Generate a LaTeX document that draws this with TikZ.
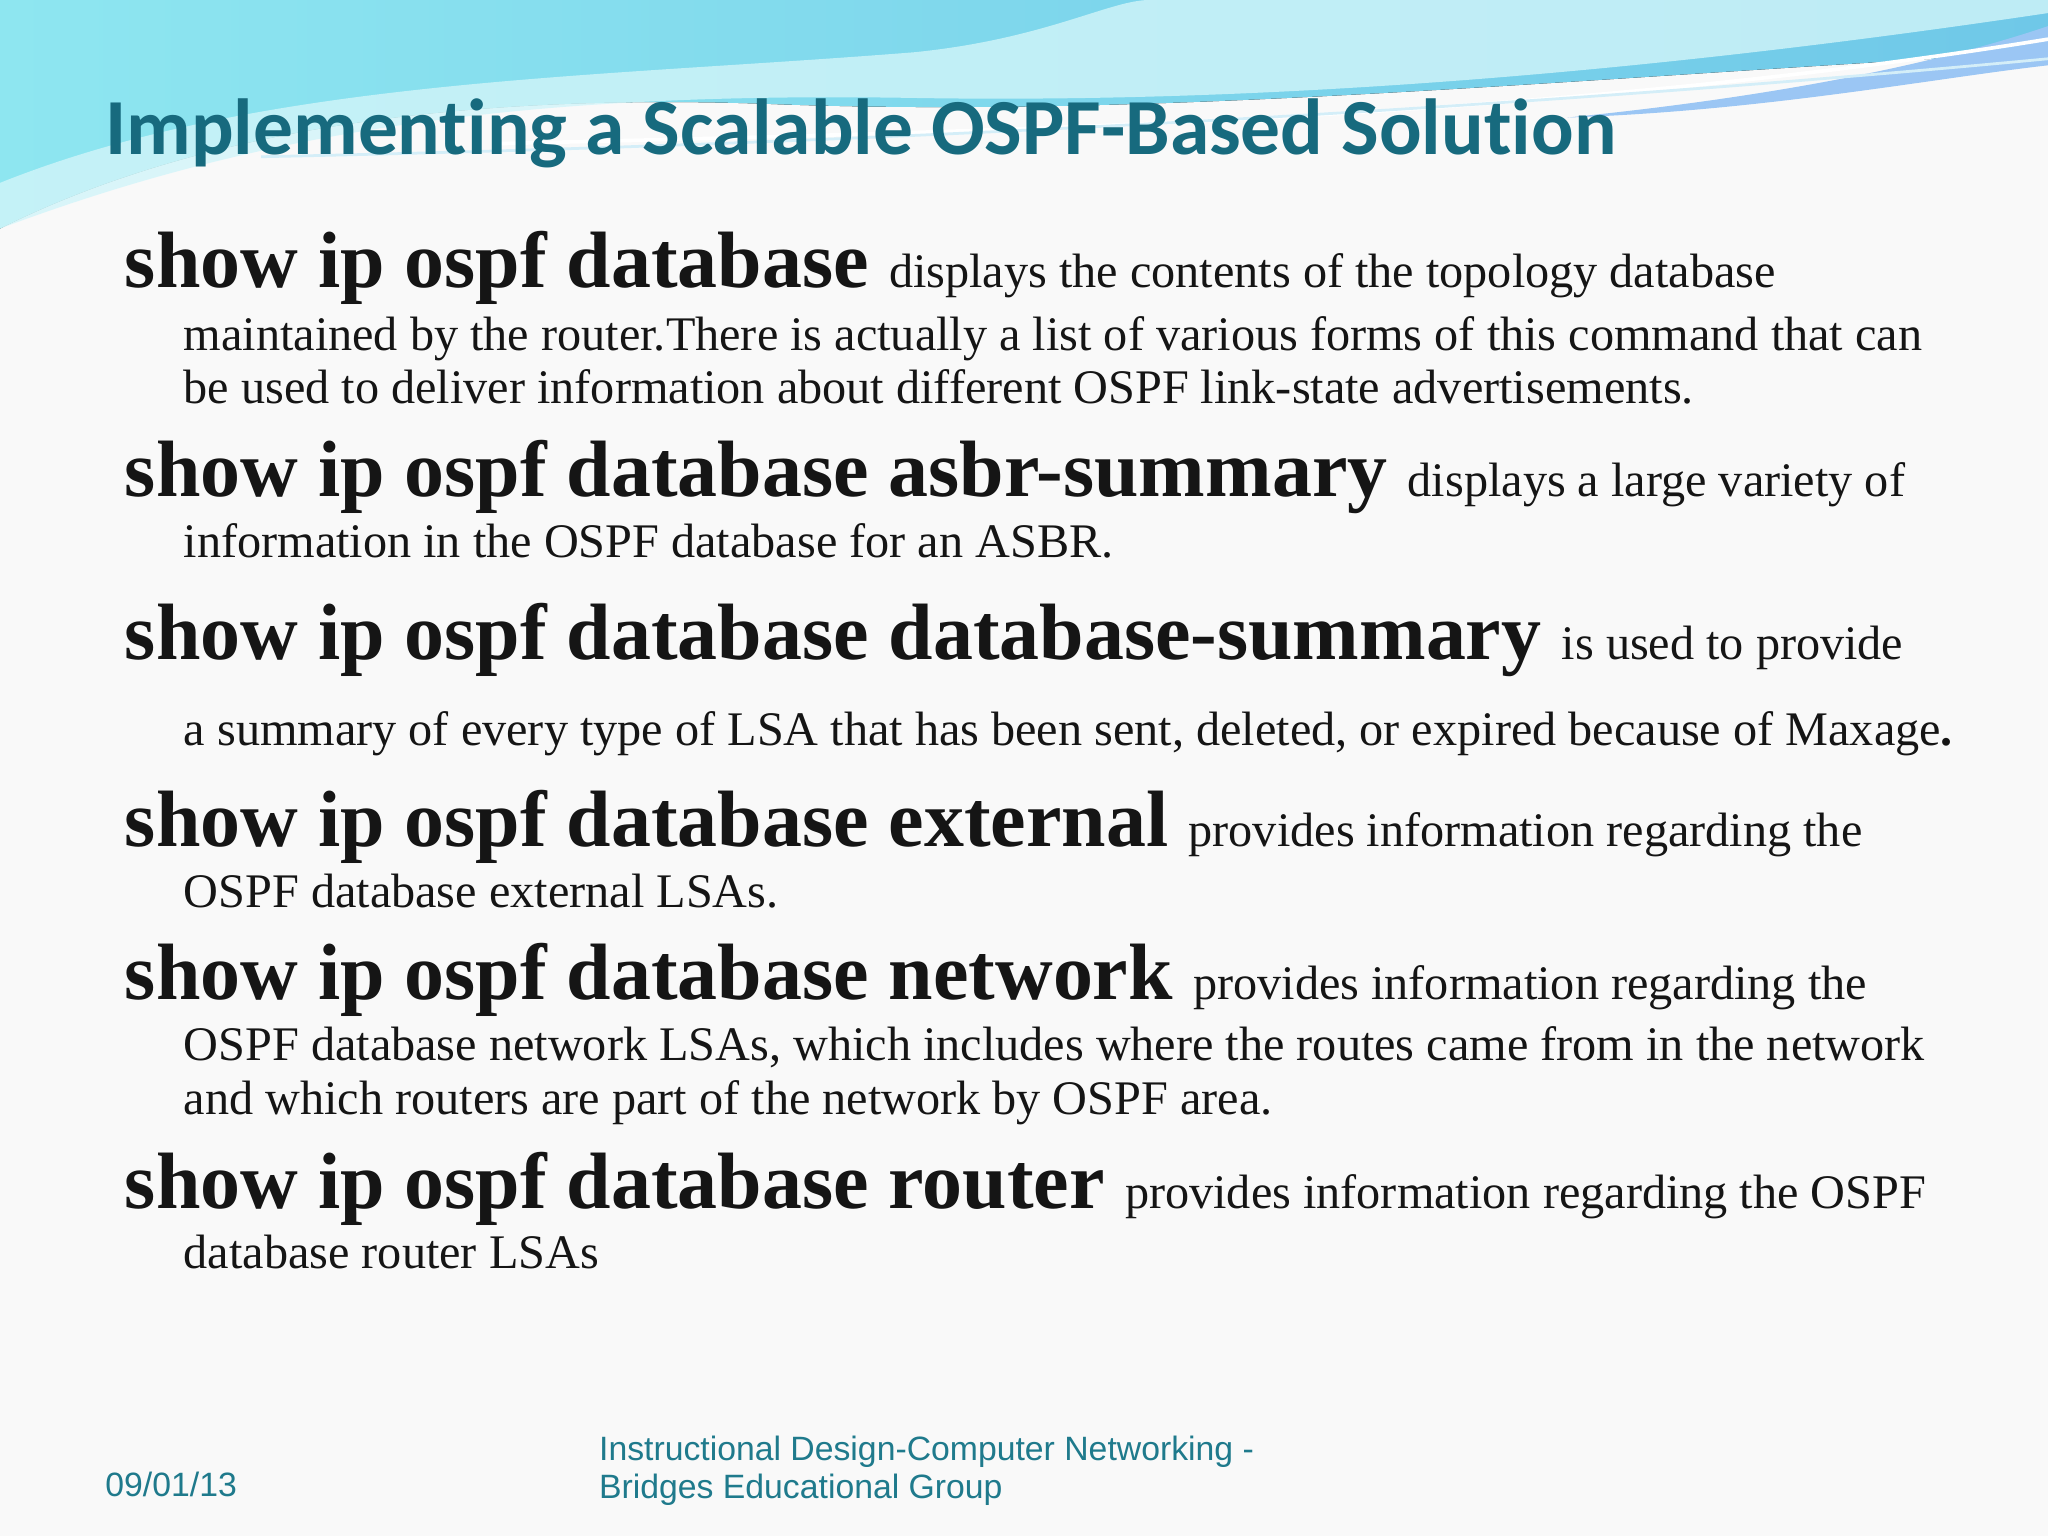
\documentclass[tikz,border=0pt]{standalone}
\usepackage{fontspec}
\setmainfont{Liberation Serif}
\newfontfamily\titlefont[Ligatures=NoCommon]{Carlito}
\newfontfamily\footfont{Liberation Sans}
\definecolor{ttl}{HTML}{176A7E}
\definecolor{ink}{HTML}{151515}
\definecolor{foot}{HTML}{1F7A8C}
\definecolor{wave1}{HTML}{8EE6F0}
\definecolor{wave2}{HTML}{6FC8E8}
\tikzset{
 cmd/.style={anchor=base west,inner sep=0pt,text=ink,font=\fontsize{17.4}{20}\selectfont\bfseries},
 body/.style={anchor=base west,inner sep=0pt,text=ink,font=\fontsize{10.5}{12}\selectfont},
 foottxt/.style={anchor=base west,inner sep=0pt,text=foot,font=\footfont\fontsize{7.35}{9}\selectfont},
}
\begin{document}
\begin{tikzpicture}[x=0.01cm,y=-0.01cm]
\useasboundingbox (0,0) rectangle (1568,1176);
\fill[white!95!gray] (0,0) rectangle (1568,1176);
% waves
\fill[left color=wave1,right color=wave2] (0,0) -- (1568,0) -- (1568,40) .. controls (1200,60) and (900,90) .. (600,80) .. controls (350,70) and (150,100) .. (0,175) -- cycle;
\fill[white!60!wave1,opacity=0.8] (0,140) .. controls (200,60) and (450,60) .. (700,40) .. controls (800,30) and (850,0) .. (880,0) -- (1568,0) -- (1568,10) .. controls (1300,50) and (1000,80) .. (700,75) .. controls (400,70) and (200,100) .. (0,175) -- cycle;
\fill[wave2!80!blue!60!white] (1568,20) .. controls (1450,60) and (1300,80) .. (1200,90) .. controls (1350,85) and (1480,60) .. (1568,50) -- cycle;
\draw[white,line width=0.8pt] (380,110) .. controls (800,100) and (1200,90) .. (1568,30);
\draw[white!70!wave2,line width=0.6pt] (200,120) .. controls (700,110) and (1200,80) .. (1568,45);
\node[anchor=base west,inner sep=0pt,text=ttl,font=\titlefont\fontsize{17.3}{20}\selectfont\bfseries] (title) at (80,118) {Implementing a Scalable OSPF-Based Solution};
% entries
\node[cmd] (c1) at (95,220) {show ip ospf database};
\node[body] (d1) at ([xshift=4pt]c1.base east) {displays the contents of the topology database};
\node[body] (d1b) at (140,268) {maintained by the router.There is actually a list of various forms of this command that can};
\node[body] (d1c) at (140,309) {be used to deliver information about different OSPF link-state advertisements.};
\node[cmd] (c2) at (95,380) {show ip ospf database asbr-summary};
\node[body] (d2) at ([xshift=4pt]c2.base east) {displays a large variety of};
\node[body] (d2b) at (140,427) {information in the OSPF database for an ASBR.};
\node[cmd] (c3) at (95,505) {show ip ospf database database-summary};
\node[body] (d3) at ([xshift=4pt]c3.base east) {is used to provide};
\node[body] (d3b) at (140,571) {a summary of every type of LSA that has been sent, deleted, or expired because of Maxage\textbf{.}};
\node[cmd] (c4) at (95,648) {show ip ospf database external};
\node[body] (d4) at ([xshift=4pt]c4.base east) {provides information regarding the};
\node[body] (d4b) at (140,695) {OSPF database external LSAs.};
\node[cmd] (c5) at (95,765) {show ip ospf database network};
\node[body] (d5) at ([xshift=4pt]c5.base east) {provides information regarding the};
\node[body] (d5b) at (140,812) {OSPF database network LSAs, which includes where the routes came from in the network};
\node[body] (d5c) at (140,853) {and which routers are part of the network by OSPF area.};
\node[cmd] (c6) at (95,925) {show ip ospf database router};
\node[body] (d6) at ([xshift=4pt]c6.base east) {provides information regarding the OSPF};
\node[body] (d6b) at (140,971) {database router LSAs};
% footer
\node[foottxt] (date) at (80,1146) {09/01/13};
\node[foottxt] (f1) at (458,1118) {Instructional Design-Computer Networking -};
\node[foottxt] (f2) at (458,1147) {Bridges Educational Group};
\end{tikzpicture}
\end{document}
